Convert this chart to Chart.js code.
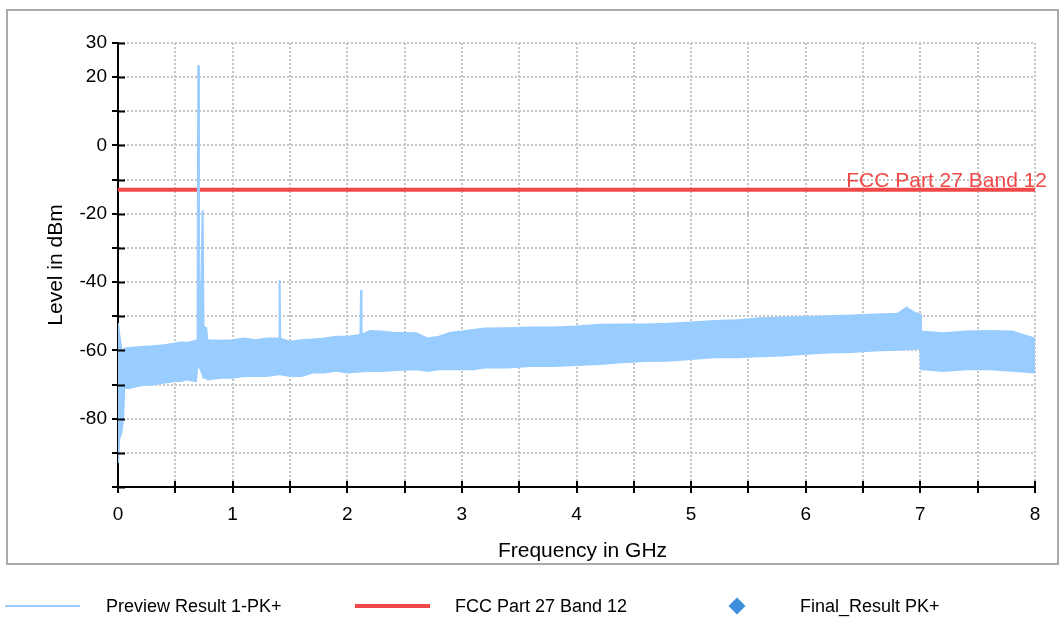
<!DOCTYPE html>
<html>
<head>
<meta charset="utf-8">
<script src="https://cdn.jsdelivr.net/npm/chart.js"></script>
<style>
  body { margin: 0; background: #fff; font-family: "Liberation Sans", Arial, sans-serif; }
  #wrap { position: relative; width: 1061px; height: 617px; }
  #legend { position: absolute; left: 0; top: 594px; width: 1061px; height: 24px; }
  .lg-text { position: absolute; top: 0; height: 24px; line-height: 24px; font-size: 18px; color: #000; white-space: nowrap; }
  .lg-sw { position: absolute; }
</style>
</head>
<body>
<div id="wrap">
  <canvas id="spectrum" width="1061" height="617"></canvas>
  <div id="legend"></div>
</div>
<script>
// frequency points (GHz) of the preview trace envelope
const freqGHz = [0, 0.01, 0.03, 0.045, 0.055, 0.1, 0.2, 0.3, 0.4, 0.5, 0.55, 0.6, 0.68, 0.694, 0.7, 0.706, 0.725, 0.738, 0.746, 0.77, 0.78,
  0.9, 1.0, 1.1, 1.2, 1.3, 1.405, 1.41, 1.415, 1.5, 1.6, 1.7, 1.8, 1.9, 2.0, 2.115, 2.12, 2.125, 2.2, 2.3, 2.4,
  2.6, 2.7, 2.8, 2.9, 3.0, 3.1, 3.2, 3.4, 3.6, 3.8, 4.0, 4.2, 4.4, 4.6, 4.8, 5.0, 5.2, 5.4, 5.6, 5.8,
  6.0, 6.2, 6.4, 6.6, 6.8, 6.88, 6.95, 7.0, 7.005, 7.2, 7.4, 7.6, 7.8, 8.0];
// peak of the noise band (dBm), incl. the spurs
const previewUpper = [-52, -55, -60, -60, -59.5, -59.3, -59, -58.8, -58.5, -58, -57.7, -57.8, -57.2, -57, 23.5, -40, -44, -19, -53, -53.5, -57,
  -57.2, -57, -56.5, -57, -56.5, -56.5, -39.5, -56.5, -57.5, -57, -56.8, -56.5, -56, -56, -55.5, -42.3, -55.5, -54.3, -54.5, -54.8,
  -55, -56.5, -56, -54.8, -54.5, -54, -53.6, -53.5, -53.3, -53.3, -53, -52.5, -52.4, -52.4, -52.2, -51.8, -51.4, -51.2, -50.6, -50.4,
  -50.2, -50, -49.8, -49.5, -49.3, -47.5, -49, -49.5, -54.5, -55, -54.5, -54.3, -54.5, -56.5];
// floor of the noise band (dBm)
const previewLower = [-93, -86, -84, -80, -71, -71, -70.2, -70, -69.5, -69, -69, -68.5, -69, -64, -64, -64, -66, -67, -68, -68, -68.5,
  -68, -68, -67.5, -67.5, -67.5, -67, -67, -67, -67.5, -67.5, -66.5, -66.5, -66, -66.5, -66.2, -66.2, -66.2, -66, -66, -65.8,
  -65.5, -66, -65.5, -65.5, -65.5, -65.5, -65, -65, -64.6, -64.6, -64.3, -64, -63.5, -63.1, -63, -62.5, -62, -62, -61.7, -61.5,
  -61, -60.6, -60.5, -60, -59.8, -59.7, -59.5, -59.5, -65.5, -66, -65.5, -65.5, -66, -66.5];

const limitFreq = [0, 8];
const limitLevel = [-13, -13];
const finalFreq = [];
const finalLevel = [];

const yLabelled = [30, 20, 0, -20, -40, -60, -80];

const blue = "#99ccff";
const red = "#f04848";
const finalBlue = "#3d8fdc";
const font = "'Liberation Sans', Arial, sans-serif";

const pts = (xs, ys) => xs.map((x, i) => ({ x: x, y: ys[i] }));

const framePlugin = {
  id: "frame",
  afterDraw(chart) {
    const { ctx, chartArea, scales } = chart;
    const x = scales.x, y = scales.y;
    ctx.save();
    // inner half of the tick marks
    ctx.strokeStyle = "#000";
    ctx.lineWidth = 2;
    ctx.beginPath();
    y.ticks.forEach(t => {
      const py = Math.round(y.getPixelForValue(t.value)) + 0.5;
      ctx.moveTo(chartArea.left, py);
      ctx.lineTo(chartArea.left + 7, py);
    });
    x.ticks.forEach(t => {
      const px = Math.round(x.getPixelForValue(t.value));
      ctx.moveTo(px, chartArea.bottom);
      ctx.lineTo(px, chartArea.bottom - 6);
    });
    ctx.stroke();
    // limit line label
    const lim = chart.data.datasets[2];
    ctx.fillStyle = red;
    ctx.font = "21px " + font;
    ctx.textAlign = "right";
    ctx.textBaseline = "alphabetic";
    ctx.fillText(lim.label, chartArea.right + 12, y.getPixelForValue(limitLevel[1]) - 3);
    // x axis title, slightly right of centre like the original
    ctx.fillStyle = "#000";
    ctx.font = "21px " + font;
    ctx.textAlign = "center";
    ctx.fillText(x.options.title.text, (chartArea.left + chartArea.right) / 2 + 6, 557);
    // clip everything below the frame, then draw the frame
    ctx.fillStyle = "#fff";
    ctx.fillRect(0, 565, chart.width, 26);
    ctx.strokeStyle = "#ababab";
    ctx.lineWidth = 2;
    ctx.strokeRect(7, 10, 1051, 554);
    ctx.restore();
  }
};

const chart = new Chart(document.getElementById("spectrum"), {
  type: "line",
  data: {
    datasets: [
      {
        label: "Preview Result 1-PK+",
        data: pts(freqGHz, previewUpper),
        borderColor: blue,
        backgroundColor: blue,
        borderWidth: 2,
        pointRadius: 0,
        tension: 0,
        fill: "+1"
      },
      {
        label: "preview floor",
        data: pts(freqGHz, previewLower),
        borderColor: blue,
        borderWidth: 2,
        pointRadius: 0,
        tension: 0,
        fill: false
      },
      {
        label: "FCC Part 27 Band 12",
        data: pts(limitFreq, limitLevel),
        borderColor: red,
        borderWidth: 4,
        pointRadius: 0,
        fill: false
      },
      {
        label: "Final_Result PK+",
        type: "scatter",
        data: pts(finalFreq, finalLevel),
        backgroundColor: finalBlue,
        pointStyle: "rectRot",
        pointRadius: 8
      }
    ]
  },
  options: {
    responsive: false,
    animation: false,
    events: [],
    layout: { padding: { left: 0, top: 43, right: 26, bottom: 54 } },
    plugins: {
      legend: { display: false },
      tooltip: { enabled: false }
    },
    scales: {
      x: {
        type: "linear",
        min: 0,
        max: 8,
        afterFit: s => { s.height = 76; },
        ticks: {
          stepSize: 0.5,
          padding: 10,
          color: "#000",
          font: { family: font, size: 19 },
          autoSkip: false,
          maxRotation: 0,
          callback: v => Number.isInteger(v) ? String(v) : ""
        },
        grid: {
          color: "#c4c4c4",
          lineWidth: 2,
          tickColor: "#000",
          tickLength: 6,
          tickWidth: 2
        },
        border: { display: true, color: "#000", width: 2, dash: [2, 2] },
        title: {
          display: false,
          text: "Frequency in GHz"
        }
      },
      y: {
        min: -100,
        max: 30,
        afterFit: s => { s.width = 118; },
        ticks: {
          stepSize: 10,
          padding: 5,
          color: "#000",
          font: { family: font, size: 19 },
          autoSkip: false,
          callback: v => yLabelled.includes(v) ? String(v) : ""
        },
        grid: {
          color: "#c4c4c4",
          lineWidth: 2,
          tickColor: "#000",
          tickLength: 6,
          tickWidth: 2
        },
        border: { display: true, color: "#000", width: 2, dash: [2, 2] },
        title: {
          display: true,
          text: "Level in dBm",
          color: "#000",
          font: { family: font, size: 21 },
          padding: { top: 44, bottom: 0 }
        }
      }
    }
  },
  plugins: [framePlugin]
});

// legend under the frame, built from the datasets
const legendEl = document.getElementById("legend");
const legendItems = [
  { ds: 0, sw: "left:5px;top:11px;width:75px;height:2px;", text: 106 },
  { ds: 2, sw: "left:355px;top:10px;width:75px;height:4px;", text: 455 },
  { ds: 3, sw: "left:731px;top:6px;width:12px;height:12px;transform:rotate(45deg);", text: 800 }
];
legendItems.forEach(it => {
  const ds = chart.data.datasets[it.ds];
  const sw = document.createElement("div");
  sw.className = "lg-sw";
  sw.style.cssText = it.sw + "background:" + (ds.type === "scatter" ? ds.backgroundColor : ds.borderColor) + ";";
  legendEl.appendChild(sw);
  const tx = document.createElement("div");
  tx.className = "lg-text";
  tx.style.left = it.text + "px";
  tx.textContent = ds.label;
  legendEl.appendChild(tx);
});
</script>
</body>
</html>
